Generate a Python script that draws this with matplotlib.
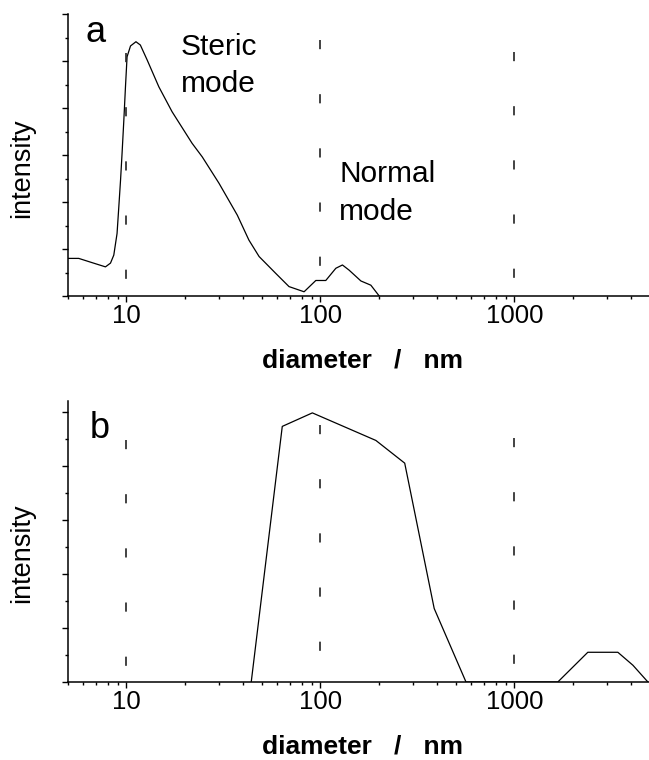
import numpy as np
import matplotlib
matplotlib.use('Agg')
import matplotlib.pyplot as plt
from matplotlib.ticker import FixedLocator, MultipleLocator, NullFormatter, LogLocator

plt.rcParams['font.family'] = ['Liberation Sans', 'DejaVu Sans']

# data (diameter in nm, intensity in arbitrary units)
d_a = [5.0, 5.68, 6.65, 7.80, 8.28, 8.61, 8.95, 9.14, 9.33, 9.50, 9.70, 9.89,
       10.08, 10.5, 11.2, 11.8, 12.8, 14.7, 17.2, 21.8, 24.6, 30.0, 37.3,
       42.8, 48.3, 58.9, 68.9, 82.4, 94.7, 106.6, 120.1, 129.9, 140.6, 161.7,
       182.0, 201.0]
i_a = [0.80, 0.80, 0.71, 0.62, 0.70, 0.87, 1.33, 1.90, 2.47, 3.04, 3.74, 4.45,
       5.09, 5.32, 5.41, 5.34, 5.02, 4.45, 3.92, 3.25, 2.96, 2.40, 1.72,
       1.19, 0.84, 0.48, 0.20, 0.09, 0.33, 0.33, 0.59, 0.66, 0.55, 0.32,
       0.23, 0.0]

d_b = [44.0, 63.6, 90.9, 193.2, 272.0, 386.0, 563.0, 1674.0, 2390.0, 3414.0, 4083.0, 4878.0]
i_b = [0.0, 4.73, 4.98, 4.47, 4.05, 1.36, 0.0, 0.0, 0.55, 0.55, 0.31, 0.0]

grid_x = [10, 100, 1000]
grid_top_a = [5.17, 5.45, 5.19]
grid_top_b = [4.48, 4.76, 4.52]
tick_vals = [10, 100, 1000]
tick_text = ['10', '100', '1000']

W, H = 649, 760
fig = plt.figure(figsize=(W / 100, H / 100), dpi=100)

def box(left, top, right, bottom):
    return [left / W, 1 - bottom / H, (right - left) / W, (bottom - top) / H]

ax1 = fig.add_axes(box(68, 14, 650, 296))
ax2 = fig.add_axes(box(68, 401, 650, 682))

def style(ax, ymax):
    ax.set_xscale('log')
    ax.set_xlim(5, 5000)
    ax.set_ylim(0, ymax)
    for s in ['top', 'right']:
        ax.spines[s].set_visible(False)
    for s in ['left', 'bottom']:
        ax.spines[s].set_linewidth(1.1)
    ax.xaxis.set_major_locator(FixedLocator(tick_vals))
    ax.set_xticklabels(tick_text)
    ax.xaxis.set_minor_locator(LogLocator(base=10, subs=np.arange(2, 10)))
    ax.xaxis.set_minor_formatter(NullFormatter())
    ax.yaxis.set_major_locator(MultipleLocator(1))
    ax.yaxis.set_minor_locator(MultipleLocator(0.5))
    ax.set_yticklabels([])
    ax.tick_params(which='major', length=4, width=1.0, direction='out', labelsize=18.5, pad=2)
    ax.tick_params(which='minor', length=2.2, width=1.0, direction='out')

style(ax1, 6.0)
style(ax2, 5.2)

ax1.plot(d_a, i_a, color='black', lw=0.9)
ax2.plot(d_b, i_b, color='black', lw=0.9)

for x, t in zip(grid_x, grid_top_a):
    ax1.plot([x, x], [t, 0], color='#222222', lw=1.2, dashes=(5.5, 27.0))
for x, t in zip(grid_x, grid_top_b):
    ax2.plot([x, x], [t, 0], color='#222222', lw=1.2, dashes=(5.5, 27.0))

# panel letters and annotations
ax1.text(6.17, 5.40, 'a', fontsize=26, va='baseline', ha='left')
ax2.text(6.47, 4.52, 'b', fontsize=26, va='baseline', ha='left')
ax1.text(19.1, 5.13, 'Steric', fontsize=21.5, va='baseline', ha='left')
ax1.text(19.1, 4.34, 'mode', fontsize=21.5, va='baseline', ha='left')
ax1.text(124.9, 2.43, 'Normal', fontsize=21.5, va='baseline', ha='left')
ax1.text(124.9, 1.62, 'mode', fontsize=21.5, va='baseline', ha='left')

# axis titles
fig.text(22 / W, 1 - 168 / H, 'intensity', rotation=90, fontsize=19.5, ha='center', va='center')
fig.text(22 / W, 1 - 553 / H, 'intensity', rotation=90, fontsize=19.5, ha='center', va='center')
fig.text(362 / W, 1 - 348 / H, 'diameter   /   nm', fontsize=19, fontweight='bold', ha='center', va='top')
fig.text(362 / W, 1 - 734 / H, 'diameter   /   nm', fontsize=19, fontweight='bold', ha='center', va='top')

fig.savefig('out.png', dpi=100)
